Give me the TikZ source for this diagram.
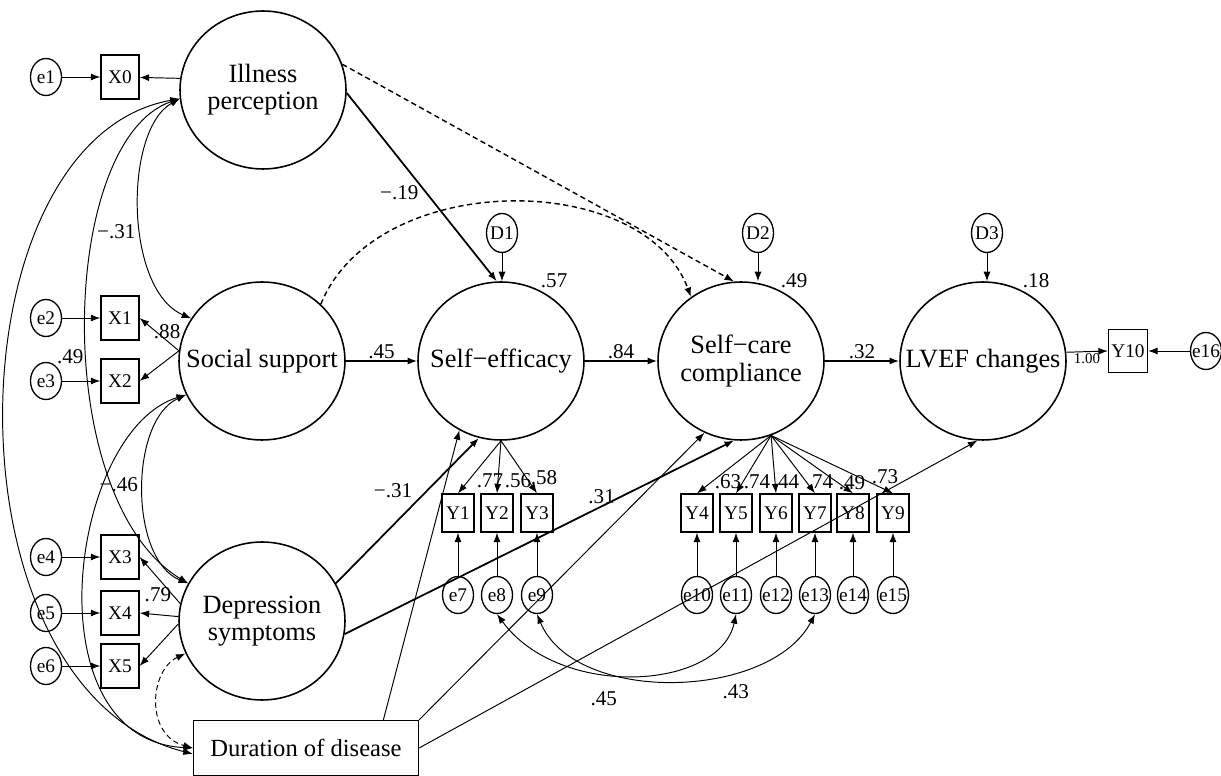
\documentclass[tikz,border=0pt]{standalone}
\usepackage{fontspec}
\setmainfont{Liberation Serif}
\usetikzlibrary{arrows.meta,positioning,shapes.geometric}
\tikzset{
  latent/.style={ellipse, draw, line width=0.9pt, minimum width=3.32cm, minimum height=3.16cm,
    inner sep=-14pt, align=center, font=\fontsize{15}{15.5}\selectfont},
  obsbox/.style={rectangle, draw, line width=0.75pt, minimum width=0.64cm, minimum height=0.76cm,
    inner sep=0pt, font=\fontsize{11}{12}\selectfont},
  xbox/.style={obsbox, minimum width=0.76cm, minimum height=0.88cm},
  covbox/.style={rectangle, draw, line width=0.75pt, minimum width=4.5cm, minimum height=1.1cm,
    inner sep=0pt, font=\fontsize{14}{15}\selectfont},
  errnode/.style={ellipse, draw, line width=0.75pt, minimum width=0.62cm, minimum height=0.74cm,
    inner xsep=-5pt, inner ysep=0pt, font=\fontsize{11}{12}\selectfont},
  pathln/.style={-{Latex[length=1.9mm,width=1.4mm]}, line width=0.55pt},
  strongln/.style={pathln, line width=1pt},
  dashln/.style={pathln, line width=0.8pt, dash pattern=on 3pt off 2pt},
  corrln/.style={{Latex[length=1.9mm,width=1.4mm]}-{Latex[length=1.9mm,width=1.4mm]}, line width=0.55pt},
  coef/.style={font=\fontsize{12}{13}\selectfont, inner sep=1pt},
}

\begin{document}
\begin{tikzpicture}[x=0.02cm, y=-0.02cm]
  \useasboundingbox (0,0) rectangle (1221,776);
  % latent variables
  \node[latent] (ill) at (263,90) {Illness\\perception};
  \node[latent] (soc) at (262,361) {Social support};
  \node[latent] (dep) at (262,621) {Depression\\symptoms};
  \node[latent, label={[coef]62:.57}] (se) at (501,361) {Self−efficacy};
  \node[latent, label={[coef]62:.49}] (sc) at (741,361) {Self−care\\compliance};
  \node[latent, label={[coef]62:.18}] (lv) at (983,361) {LVEF changes};
  \node[covbox] (dur) at (306,748) {Duration of disease};

  % disturbances
  \foreach \i/\x in {1/502,2/758,3/987}
    \node[errnode, minimum height=0.78cm] (D\i) at (\x,233) {D\i};
  \draw[pathln] (D1) -- (D1 |- se.north);
  \draw[pathln] (D2) -- (D2 |- sc.north);
  \draw[pathln] (D3) -- (D3 |- lv.north);

  % X indicators
  \foreach \i/\y in {0/77,1/318,2/381,3/557,4/613,5/666} {
    \pgfmathtruncatemacro\k{\i+1}
    \node[xbox] (X\i) at (120,\y) {X\i};
    \node[errnode] (e\k) at (46,\y) {e\k};
    \draw[pathln] (e\k) -- (X\i);
  }
  \draw[pathln] (ill.172) -- (X0);
  \draw[pathln] (soc.173) -- node[coef, pos=0.3, above=0pt] {.88} (X1.east);
  \draw[pathln] (soc.173) -- (X2.east);
  \draw[pathln] (dep.168) -- node[coef, pos=0.55, below=4pt] {.79} (X3.east);
  \draw[pathln] (dep.177) -- (X4.east);
  \draw[pathln] (dep.182) -- (X5.east);

  % Y indicators
  \foreach \i/\x in {1/458,2/497,3/537,4/697,5/736,6/776,7/815,8/853,9/893} {
    \pgfmathtruncatemacro\k{\i+6}
    \node[obsbox] (Y\i) at (\x,513) {Y\i};
    \node[errnode] (e\k) at (\x,595) {e\k};
    \draw[pathln] (e\k) -- (Y\i);
  }
  \foreach \i in {1,2,3}
    \draw[pathln] (se.south) -- (Y\i.north);
  \foreach \i in {4,...,9}
    \draw[pathln] (sc.-68) -- (Y\i.north);
  \foreach \i/\v/\x/\y in {1/.77/490/481, 2/.56/518/481, 3/.58/544/478,
      4/.63/728/482, 5/.74/757/482, 6/.44/786/482, 7/.74/820/482, 8/.49/852/483, 9/.73/885/477}
    \node[coef] (ld\i) at (\x,\y) {\v};

  \node[obsbox, minimum width=0.78cm, minimum height=0.86cm] (Y10) at (1128,351) {Y10};
  \node[errnode] (e16) at (1206,351) {e16};
  \draw[pathln] (e16) -- (Y10);
  \draw[pathln] (lv.6) -- node[font=\fontsize{8.5}{9}\selectfont, inner sep=1pt, below] {1.00} (Y10.west);

  % structural paths
  \draw[strongln] (soc) -- node[coef, above] {.45} (se);
  \draw[strongln] (se) -- node[coef, above] {.84} (sc);
  \draw[strongln] (sc) -- node[coef, above] {.32} (lv);
  \draw[strongln] (ill.-2) -- node[coef, pos=0.53, left=3pt] {−.19} (se.93);
  \draw[dashln] (ill.18) -- (sc.95);
  \draw[dashln] (soc.44) .. controls +(55,-135) and +(-47,-128) .. (sc.128);
  \draw[strongln] (dep.27) -- node[coef, pos=0.56, above left=1pt] {−.31} (se.254);
  \draw[strongln] (dep.-9) -- node[coef, pos=0.66, above] {.31} (sc.265);
  \draw[pathln] (dur.20) -- (se.239);
  \draw[pathln] (dur.north east) -- (sc.243);
  \draw[pathln] (dur.east) -- (lv.266);

  % correlations among exogenous variables
  \draw[corrln] (ill.186) .. controls +(-56,31) and +(-67,-29) .. node[coef, pos=0.58, left=2pt] {−.31} (soc.149);
  \draw[corrln] (ill.186) .. controls +(-121,41) and +(-139,-84) .. node[coef, pos=0.55, left=1pt] {.49} (dep.153);
  \draw[corrln] (ill.186) .. controls +(-231,41) and +(-253,-64) .. (dur.183);
  \draw[corrln] (soc.204) .. controls +(-57,26) and +(-59,-24) .. node[coef, pos=0.48, left=2pt] {−.46} (dep.153);
  \draw[corrln] (soc.204) .. controls +(-117,36) and +(-163,-8) .. (dur.west);
  \draw[corrln, dash pattern=on 3pt off 2pt] (dep.203) .. controls +(-36,17) and +(-48,-13) .. (dur.west);

  % error covariances
  \draw[corrln] (e8.south) .. controls +(63,86) and +(-16,76) .. node[coef, pos=0.4, below=9pt] {.45} (e11.south);
  \draw[corrln] (e9.south) .. controls +(38,91) and +(-45,86) .. node[coef, pos=0.68, below=6pt] {.43} (e13.south);
\end{tikzpicture}
\end{document}
